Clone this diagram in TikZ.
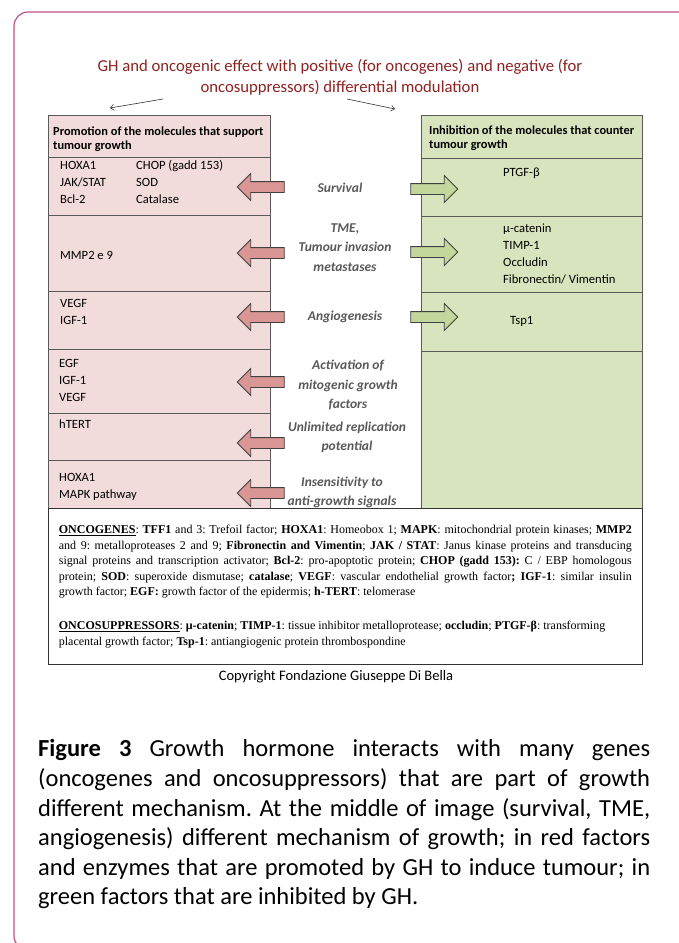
\documentclass[tikz,border=0pt]{standalone}
\usepackage{fontspec}
\setmainfont{Carlito}
\newfontfamily\legendfont{Liberation Serif}
\usetikzlibrary{shapes.arrows, arrows.meta, positioning}
\frenchspacing
\definecolor{framepink}{RGB}{192,80,140}
\definecolor{titlered}{RGB}{140,35,35}
\definecolor{promofill}{RGB}{242,220,219}
\definecolor{inhibfill}{RGB}{215,228,189}
\definecolor{redarrowfill}{RGB}{217,150,148}
\definecolor{greenarrowfill}{RGB}{195,214,155}
\definecolor{midgray}{RGB}{89,89,89}
\definecolor{cellline}{RGB}{90,90,90}
\tikzset{
  lcell/.style={rectangle, draw=cellline, fill=promofill, minimum width=222, outer sep=0, inner sep=0},
  rcell/.style={rectangle, draw=cellline, fill=inhibfill, minimum width=221, outer sep=0, inner sep=0},
  headtext/.style={font=\fontsize{12.4}{14.5}\selectfont\bfseries, align=left, anchor=west, inner sep=0},
  itemtext/.style={font=\fontsize{12.6}{17}\selectfont, align=left, anchor=west, inner sep=0},
  midtext/.style={font=\fontsize{13.5}{19.5}\selectfont\bfseries\itshape, text=midgray, align=center, inner sep=0},
  blockarrow/.style={single arrow, draw=black!75, minimum height=47, inner xsep=0, inner ysep=5,
    single arrow head extend=8, line width=0.8},
  redarrow/.style={blockarrow, fill=redarrowfill, shape border rotate=180},
  greenarrow/.style={blockarrow, fill=greenarrowfill},
  thinarrow/.style={-{Straight Barb[length=3.5pt,width=6pt]}, black!80, line width=0.6}
}
\begin{document}
\begin{tikzpicture}[x=1pt, y=-1pt]
  \useasboundingbox (0,0) rectangle (678,943);
  \fill[white] (0,0) rectangle (678,943);
  \draw[framepink, line width=1.2, rounded corners=14] (720,12) -- (14,12) -- (14,950) -- (720,950);

  % title
  \node (title) [font=\fontsize{16.7}{21}\selectfont, text=titlered, align=center] at (340,77)
    {GH and oncogenic effect with positive (for oncogenes) and negative (for\\oncosuppressors) differential modulation};
  \coordinate (tl) at (163,99);
  \coordinate (tlend) at (110,108);
  \coordinate (tr) at (347,99);
  \coordinate (trend) at (395,109);
  \draw [thinarrow] (tl) -- (tlend);
  \draw [thinarrow] (tr) -- (trend);

  % promotion column
  \node (lhead) [lcell, minimum height=42, anchor=north west] at (48,115) {};
  \node (lsurv) [lcell, minimum height=58, below=0pt of lhead] {};
  \node (ltme) [lcell, minimum height=76, below=0pt of lsurv] {};
  \node (langio) [lcell, minimum height=58, below=0pt of ltme] {};
  \node (lmito) [lcell, minimum height=64, below=0pt of langio] {};
  \node (lrepl) [lcell, minimum height=47, below=0pt of lmito] {};
  \node (linsens) [lcell, minimum height=48, below=0pt of lrepl] {};

  % inhibition column
  \node (rhead) [rcell, minimum height=43, anchor=north west] at (421,115) {};
  \node (rsurv) [rcell, minimum height=58, below=0pt of rhead] {};
  \node (rtme) [rcell, minimum height=76, below=0pt of rsurv] {};
  \node (rangio) [rcell, minimum height=59, below=0pt of rtme] {};
  \node (rrest) [rcell, minimum height=157, below=0pt of rangio] {};

  \node (lheadtxt) [headtext] at (53,139) {Promotion of the molecules that support\\tumour growth};
  \node (rheadtxt) [headtext] at (429,138) {Inhibition of the molecules that counter\\tumour growth};

  % molecules
  \node (lsurva) [itemtext] at (60,182) {HOXA1\\JAK/STAT\\Bcl-2};
  \node (lsurvb) [itemtext] at (136,182) {CHOP (gadd 153)\\SOD\\Catalase};
  \node (ltmea) [itemtext] at (60,255) {MMP2 e 9};
  \node (langioa) [itemtext] at (60,311.5) {VEGF\\IGF-1};
  \node (lmitoa) [itemtext] at (59,380.5) {EGF\\IGF-1\\VEGF};
  \node (lrepla) [itemtext] at (59,424) {hTERT};
  \node (linsensa) [itemtext] at (59,486.5) {HOXA1\\MAPK pathway};
  \node (rsurva) [itemtext] at (503,173) {PTGF-β};
  \node (rtmea) [itemtext] at (503,253.5) {μ-catenin\\TIMP-1\\Occludin\\Fibronectin/ Vimentin};
  \node (rangioa) [itemtext] at (510,321) {Tsp1};

  % mechanisms
  \node (survtxt) [midtext] at (340,188) {Survival};
  \node (tmetxt) [midtext] at (345,247.5) {TME,\\Tumour invasion\\metastases};
  \node (angiotxt) [midtext] at (345,317) {Angiogenesis};
  \node (mitotxt) [midtext] at (348,385.5) {Activation of\\mitogenic growth\\factors};
  \node (repltxt) [midtext] at (347,437.5) {Unlimited replication\\potential};
  \node (insenstxt) [midtext] at (342,492.5) {Insensitivity to\\anti-growth signals};

  \node (survred) [redarrow] at (263.5,187) {};
  \node (tmered) [redarrow] at (263.5,253) {};
  \node (angiored) [redarrow] at (263.5,317) {};
  \node (mitored) [redarrow] at (263.5,382) {};
  \node (replred) [redarrow] at (263.5,443) {};
  \node (insensred) [redarrow] at (263.5,493) {};
  \node (survgreen) [greenarrow] at (431.5,189) {};
  \node (tmegreen) [greenarrow] at (431.5,252) {};
  \node (angiogreen) [greenarrow] at (431.5,317) {};

  % abbreviations
  \node (legend) [draw=black!80, line width=0.8, anchor=north west, text width=573, inner xsep=10.5,
    inner ysep=12, minimum height=156, align=justify,
    font=\legendfont\fontsize{12}{15.5}\selectfont] at (48,508)
    {\underline{\textbf{ONCOGENES}}: \textbf{TFF1} and 3: Trefoil factor; \textbf{HOXA1}: Homeobox 1; \textbf{MAPK}: mitochondrial protein kinases; \textbf{MMP2}\linebreak
     and 9: metalloproteases 2 and 9; \textbf{Fibronectin and Vimentin}; \textbf{JAK / STAT}: Janus kinase proteins and transducing\linebreak
     signal proteins and transcription activator; \textbf{Bcl-2}: pro-apoptotic protein; \textbf{CHOP (gadd 153):} C / EBP homologous\linebreak
     protein; \textbf{SOD}: superoxide dismutase; \textbf{catalase}; \textbf{VEGF}: vascular endothelial growth factor\textbf{; IGF-1}: similar insulin\linebreak
     growth factor; \textbf{EGF:} growth factor of the epidermis; \textbf{h-TERT}: telomerase\\[18.5pt]
     \underline{\textbf{ONCOSUPPRESSORS}}: \textbf{μ-catenin}; \textbf{TIMP-1}: tissue inhibitor metalloprotease; \textbf{occludin}; \textbf{PTGF-β}: transforming\\
     placental growth factor; \textbf{Tsp-1}: antiangiogenic protein thrombospondine};

  \node (copyright) [font=\fontsize{14.5}{16}\selectfont] at (336,677) {Copyright Fondazione Giuseppe Di Bella};

  % caption
  \node (caption) [anchor=north west, text width=612, inner sep=0, align=justify,
    font=\fontsize{24.5}{29.6}\selectfont] at (38,739.5)
    {\textbf{Figure 3} Growth hormone interacts with many genes\linebreak
     (oncogenes and oncosuppressors) that are part of growth\linebreak
     different mechanism. At the middle of image (survival, TME,\linebreak
     angiogenesis) different mechanism of growth; in red factors\linebreak
     and enzymes that are promoted by GH to induce tumour; in\linebreak
     green factors that are inhibited by GH.};
\end{tikzpicture}
\end{document}
